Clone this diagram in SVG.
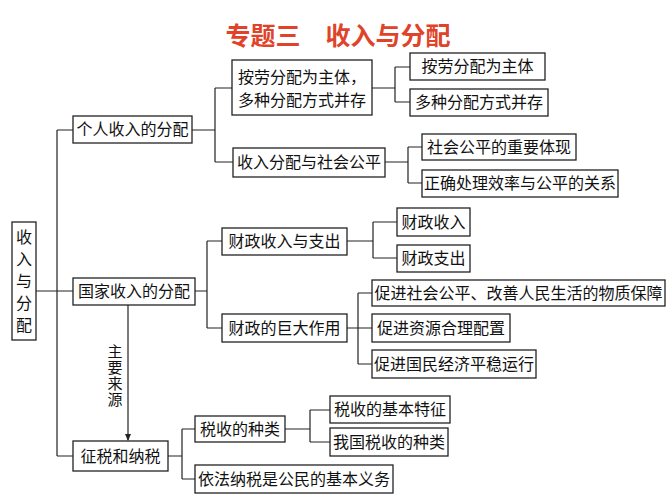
<svg xmlns="http://www.w3.org/2000/svg" width="667" height="500" viewBox="0 0 667 500">
<style>
rect.b{fill:#fff;stroke:#222;stroke-width:1.3}
text{font-family:"Noto Sans CJK SC","Noto Sans CJK JP",sans-serif;font-size:16px;fill:#111;text-anchor:middle}
.t{font-size:25px;fill:#e0432a;font-weight:bold}
.v{writing-mode:vertical-rl}
.c path{fill:none;stroke:#222;stroke-width:1.2}
</style>
<defs>
<marker id="ar" markerWidth="8" markerHeight="8" refX="6" refY="4" orient="auto" markerUnits="userSpaceOnUse">
<path d="M0,1 L7,4 L0,7 Z" fill="#222"/>
</marker>
</defs>
<rect width="667" height="500" fill="#fff"/>
<text class="t" x="338" y="45">专题三　收入与分配</text>
<g class="c" id="connectors">
<path d="M36,291 H57 M57,130 V456 M57,130 H73 M57,291 H73 M57,456 H73"/>
<path d="M192,130 H215 M215,88 V162 M215,88 H232 M215,162 H233"/>
<path d="M372,88 H395 M395,67 V102 M395,67 H410 M395,102 H410"/>
<path d="M385,162 H408 M408,147 V183 M408,147 H422 M408,183 H422"/>
<path d="M195,291 H207 M207,241 V328 M207,241 H222 M207,328 H222"/>
<path d="M347,241 H373 M373,222 V258 M373,222 H397 M373,258 H397"/>
<path d="M347,328 H358 M358,293 V364 M358,293 H372 M358,328 H372 M358,364 H372"/>
<path d="M128,305 V440" marker-end="url(#ar)"/>
<path d="M168,456 H182 M182,429 V479 M182,429 H195 M182,479 H195"/>
<path d="M285,429 H310 M310,410 V442 M310,410 H330 M310,442 H330"/>
</g>
<g id="root"><rect class="b" x="12" y="222" width="24" height="118"/>
<text class="v" x="24" y="284" style="letter-spacing:6px">收入与分配</text></g>
<g id="n1"><rect class="b" x="73" y="116" width="119" height="27"/><text x="132.5" y="135">个人收入的分配</text></g>
<g id="n11"><rect class="b" x="232" y="60" width="140" height="55"/><text x="302" y="83">按劳分配为主体，</text><text x="302" y="106">多种分配方式并存</text></g>
<g id="n111"><rect class="b" x="410" y="53" width="135" height="27"/><text x="477.5" y="72">按劳分配为主体</text></g>
<g id="n112"><rect class="b" x="410" y="89" width="138" height="27"/><text x="479" y="108">多种分配方式并存</text></g>
<g id="n12"><rect class="b" x="233" y="148" width="152" height="29"/><text x="309" y="168">收入分配与社会公平</text></g>
<g id="n121"><rect class="b" x="422" y="134" width="154" height="26"/><text x="499" y="153">社会公平的重要体现</text></g>
<g id="n122"><rect class="b" x="422" y="170" width="196" height="27"/><text x="520" y="189">正确处理效率与公平的关系</text></g>
<g id="n2"><rect class="b" x="73" y="278" width="122" height="27"/><text x="134" y="297">国家收入的分配</text></g>
<g id="n21"><rect class="b" x="222" y="228" width="125" height="27"/><text x="284.5" y="247">财政收入与支出</text></g>
<g id="n211"><rect class="b" x="397" y="208" width="73" height="28"/><text x="433.5" y="228">财政收入</text></g>
<g id="n212"><rect class="b" x="397" y="245" width="73" height="27"/><text x="433.5" y="264">财政支出</text></g>
<g id="n22"><rect class="b" x="222" y="314" width="125" height="28"/><text x="284.5" y="334">财政的巨大作用</text></g>
<g id="n221"><rect class="b" x="372" y="280" width="293" height="26"/><text x="518.5" y="299">促进社会公平、改善人民生活的物质保障</text></g>
<g id="n222"><rect class="b" x="372" y="314" width="138" height="28"/><text x="441" y="334">促进资源合理配置</text></g>
<g id="n223"><rect class="b" x="372" y="350" width="164" height="28"/><text x="454" y="370">促进国民经济平稳运行</text></g>
<g id="lbl"><text class="v" x="115" y="376" style="font-size:15px;letter-spacing:1px">主要来源</text></g>
<g id="n3"><rect class="b" x="73" y="441" width="95" height="30"/><text x="120.5" y="462">征税和纳税</text></g>
<g id="n31"><rect class="b" x="195" y="416" width="90" height="26"/><text x="240" y="435">税收的种类</text></g>
<g id="n311"><rect class="b" x="330" y="396" width="120" height="27"/><text x="390" y="415">税收的基本特征</text></g>
<g id="n312"><rect class="b" x="330" y="428" width="118" height="28"/><text x="389" y="448">我国税收的种类</text></g>
<g id="n32"><rect class="b" x="195" y="465" width="198" height="28"/><text x="294" y="485">依法纳税是公民的基本义务</text></g>
</svg>
